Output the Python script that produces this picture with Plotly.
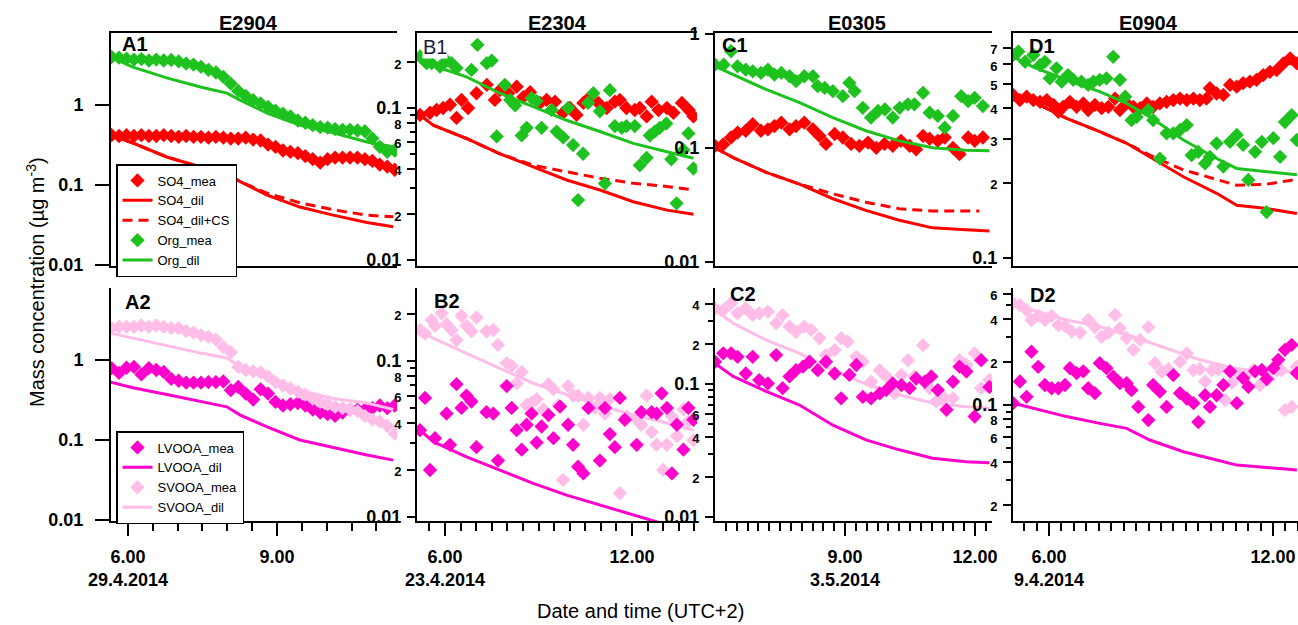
import plotly.graph_objects as go

# ---------------- data (decimal hours, µg m-3) ----------------
# Column A : E2904, 29.4.2014
a_t_mea = [5.67, 5.82, 5.97, 6.12, 6.27, 6.42, 6.57, 6.72, 6.87, 7.02, 7.17, 7.32, 7.47, 7.62, 7.77, 7.92,
           8.07, 8.22, 8.37, 8.52, 8.67, 8.82, 8.97, 9.12, 9.27, 9.42, 9.57, 9.72, 9.87, 10.02, 10.17,
           10.32, 10.47, 10.62, 10.77, 10.92, 11.07, 11.22, 11.37]
a1_org_mea = [3.98, 3.9, 3.8, 3.7, 3.75, 3.6, 3.7, 3.6, 3.65, 3.5, 3.3, 3.2, 3.0, 2.75, 2.55, 2.25, 1.85, 1.5,
              1.3, 1.15, 1.05, 0.95, 0.85, 0.78, 0.72, 0.64, 0.6, 0.56, 0.53, 0.52, 0.5, 0.49, 0.49, 0.48,
              0.47, 0.38, 0.3, 0.26, 0.27]
a1_so4_mea = [0.42, 0.41, 0.42, 0.41, 0.42, 0.41, 0.41, 0.42, 0.41, 0.40, 0.41, 0.40, 0.40, 0.39, 0.40, 0.39,
              0.38, 0.38, 0.39, 0.37, 0.36, 0.32, 0.30, 0.27, 0.26, 0.25, 0.23, 0.21, 0.19, 0.21, 0.22, 0.22,
              0.22, 0.22, 0.21, 0.20, 0.18, 0.17, 0.155]
a_t_dil = [5.64, 6.1, 6.78, 7.46, 7.99, 8.26, 8.8, 9.46, 10.13, 10.81, 11.34]
a1_so4_dil = [0.42, 0.335, 0.224, 0.168, 0.14, 0.11, 0.075, 0.053, 0.042, 0.034, 0.030]
a1_so4_cs = [0.42, 0.335, 0.224, 0.168, 0.14, 0.11, 0.079, 0.06, 0.049, 0.042, 0.040]
a1_org_dil = [3.98, 2.98, 2.18, 1.68, 1.41, 1.15, 0.79, 0.56, 0.45, 0.345, 0.30]
a2_sv_mea = [2.5, 2.6, 2.6, 2.6, 2.7, 2.6, 2.7, 2.6, 2.5, 2.5, 2.3, 2.2, 2.05, 1.95, 1.8, 1.45, 1.25, 0.82,
             0.75, 0.72, 0.70, 0.62, 0.53, 0.48, 0.44, 0.40, 0.37, 0.33, 0.30, 0.28, 0.26, 0.25, 0.24, 0.23,
             0.2, 0.18, 0.17, 0.15, 0.12]
a2_lv_mea = [0.79, 0.69, 0.80, 0.82, 0.66, 0.79, 0.75, 0.71, 0.58, 0.55, 0.52, 0.52, 0.52, 0.53, 0.53, 0.54,
             0.42, 0.46, 0.38, 0.32, 0.43, 0.38, 0.30, 0.27, 0.28, 0.29, 0.27, 0.24, 0.22, 0.21, 0.20, 0.22,
             0.24, 0.24, 0.24, 0.25, 0.27, 0.25, 0.27]
a2_lv_dil = [0.53, 0.45, 0.37, 0.30, 0.26, 0.205, 0.146, 0.10, 0.08, 0.065, 0.056]
a2_sv_dil = [2.17, 1.88, 1.54, 1.22, 1.06, 0.82, 0.61, 0.42, 0.33, 0.29, 0.24]

# Column B : E2304, 23.4.2014
b1_so4_t = [5.2, 5.52, 5.73, 5.94, 6.16, 6.37, 6.53, 6.74, 7.01, 7.34, 7.6, 7.76, 8.03, 8.3, 8.51, 8.73, 9.05,
            9.26, 9.53, 9.79, 10.01, 10.22, 10.44, 10.65, 10.92, 11.19, 11.45, 11.61, 11.82, 12.09, 12.25,
            12.47, 12.63, 12.85, 13.12, 13.33, 13.6, 13.82, 13.97]
b1_so4_mea = [0.090, 0.093, 0.097, 0.10, 0.105, 0.086, 0.113, 0.10, 0.125, 0.142, 0.113, 0.131, 0.125, 0.138,
              0.118, 0.127, 0.108, 0.113, 0.11, 0.093, 0.10, 0.09, 0.108, 0.118, 0.108, 0.10, 0.11, 0.113,
              0.10, 0.097, 0.10, 0.088, 0.11, 0.097, 0.10, 0.093, 0.108, 0.097, 0.088]
b1_org_t = [5.2, 5.41, 5.57, 5.84, 6.05, 6.21, 6.37, 6.85, 7.04, 7.34, 7.5, 7.66, 7.92, 8.09, 8.25, 8.46, 8.62,
            8.78, 8.94, 9.1, 9.42, 9.58, 9.79, 9.95, 10.11, 10.27, 10.43, 10.59, 10.76, 10.97, 11.13, 11.29,
            11.45, 11.67, 11.82, 12.09, 12.25, 12.47, 12.57, 12.73, 12.89, 13.1, 13.26, 13.43, 13.65, 13.81,
            13.97]
b1_org_mea = [0.218, 0.197, 0.197, 0.187, 0.205, 0.197, 0.183, 0.178, 0.26, 0.197, 0.205, 0.065, 0.142, 0.113,
              0.104, 0.066, 0.074, 0.116, 0.111, 0.074, 0.097, 0.070, 0.064, 0.10, 0.057, 0.0248, 0.05, 0.108,
              0.125, 0.095, 0.0319, 0.131, 0.076, 0.074, 0.076, 0.076, 0.042, 0.047, 0.066, 0.070, 0.074,
              0.079, 0.046, 0.0236, 0.053, 0.068, 0.040]
b_t_dil = [5.2, 5.62, 6.69, 7.76, 8.83, 9.9, 10.97, 12.04, 13.12, 13.97]
b1_so4_dil = [0.09, 0.077, 0.063, 0.050, 0.041, 0.0336, 0.0289, 0.0242, 0.0213, 0.020]
b1_so4_cs = [0.09, 0.077, 0.063, 0.050, 0.042, 0.038, 0.0345, 0.032, 0.0305, 0.029]
b1_org_dil = [0.218, 0.19, 0.16, 0.125, 0.102, 0.083, 0.070, 0.0585, 0.0516, 0.0467]
b2_sv_t = [5.2, 5.36, 5.57, 5.68, 5.89, 6.05, 6.21, 6.37, 6.53, 6.69, 6.85, 7.01, 7.33, 7.55, 7.7, 7.98, 8.14,
           8.3, 8.46, 8.62, 8.78, 8.94, 9.16, 9.32, 9.48, 9.64, 9.79, 9.95, 10.11, 10.27, 10.44, 10.6, 10.81,
           10.97, 11.13, 11.29, 11.61, 11.83, 12.15, 12.3, 12.47, 12.63, 12.79, 13.0, 13.12, 13.28, 13.44,
           13.65, 13.81, 13.97]
b2_sv_mea = [0.158, 0.15, 0.183, 0.168, 0.202, 0.172, 0.158, 0.136, 0.195, 0.168, 0.155, 0.19, 0.155, 0.158,
             0.127, 0.097, 0.093, 0.072, 0.085, 0.0522, 0.054, 0.057, 0.049, 0.071, 0.066, 0.052, 0.0173, 0.069,
             0.06, 0.06, 0.039, 0.058, 0.05, 0.058, 0.046, 0.057, 0.0142, 0.044, 0.042, 0.039, 0.06, 0.035,
             0.029, 0.02, 0.029, 0.044, 0.033, 0.049, 0.041, 0.031]
b2_lv_t = [5.2, 5.36, 5.52, 5.68, 6.05, 6.16, 6.37, 6.53, 6.69, 6.85, 7.01, 7.33, 7.55, 7.7, 7.98, 8.14, 8.3,
           8.46, 8.62, 8.78, 8.94, 9.1, 9.32, 9.48, 9.69, 9.95, 10.11, 10.27, 10.44, 10.6, 10.97, 11.13, 11.29,
           11.45, 11.61, 11.77, 12.15, 12.3, 12.63, 12.79, 12.95, 13.12, 13.28, 13.44, 13.65, 13.81, 13.97]
b2_lv_mea = [0.036, 0.058, 0.02, 0.032, 0.046, 0.029, 0.071, 0.05, 0.06, 0.055, 0.028, 0.047, 0.046, 0.023,
             0.069, 0.05, 0.036, 0.027, 0.039, 0.046, 0.03, 0.038, 0.045, 0.032, 0.051, 0.039, 0.029, 0.021,
             0.019, 0.05, 0.023, 0.05, 0.034, 0.028, 0.058, 0.042, 0.029, 0.047, 0.047, 0.046, 0.062, 0.05,
             0.019, 0.039, 0.027, 0.05, 0.042]
b2_sv_dil = [0.158, 0.14, 0.112, 0.09, 0.072, 0.061, 0.052, 0.045, 0.040, 0.036]
b2_lv_dil = [0.036, 0.0304, 0.0243, 0.020, 0.0164, 0.0138, 0.0119, 0.0103, 0.0089, 0.0080]

# Column C : E0305, 3.5.2014
c1_org_t = [6.0, 6.2, 6.37, 6.52, 6.71, 6.87, 7.06, 7.22, 7.37, 7.53, 7.72, 7.87, 8.06, 8.26, 8.37, 8.53, 8.72,
            8.95, 9.1, 9.22, 9.41, 9.6, 9.76, 9.92, 10.1, 10.26, 10.45, 10.6, 10.8, 10.95, 11.14, 11.3, 11.49,
            11.68, 11.84, 11.99, 12.18]
c1_org_mea = [0.534, 0.534, 0.70, 0.517, 0.483, 0.467, 0.452, 0.483, 0.437, 0.452, 0.423, 0.383, 0.423, 0.423,
              0.346, 0.334, 0.313, 0.283, 0.37, 0.313, 0.224, 0.184, 0.21, 0.217, 0.184, 0.224, 0.24, 0.24,
              0.303, 0.203, 0.19, 0.15, 0.19, 0.283, 0.256, 0.274, 0.232]
c1_so4_t = [6.0, 6.19, 6.37, 6.52, 6.71, 6.87, 7.06, 7.22, 7.37, 7.53, 7.72, 7.87, 8.06, 8.26, 8.41, 8.56, 8.76,
            8.95, 9.14, 9.33, 9.53, 9.72, 9.91, 10.1, 10.29, 10.49, 10.64, 10.8, 10.95, 11.14, 11.3, 11.49,
            11.64, 11.84, 11.99, 12.18]
c1_so4_mea = [0.104, 0.107, 0.123, 0.136, 0.141, 0.161, 0.141, 0.145, 0.155, 0.166, 0.145, 0.155, 0.166, 0.145,
              0.127, 0.108, 0.132, 0.123, 0.108, 0.104, 0.111, 0.100, 0.108, 0.104, 0.115, 0.104, 0.097, 0.127,
              0.12, 0.115, 0.123, 0.100, 0.088, 0.123, 0.115, 0.123]
c_t_dil = [6.0, 6.42, 7.18, 7.95, 8.72, 9.48, 10.25, 11.02, 11.79, 12.33]
c1_so4_dil = [0.1, 0.082, 0.061, 0.048, 0.0358, 0.0283, 0.0232, 0.0199, 0.0192, 0.0187]
c1_cs_t = [6.0, 6.42, 7.18, 7.95, 8.33, 8.72, 9.48, 10.25, 11.02, 12.1]
c1_so4_cs = [0.1, 0.082, 0.061, 0.048, 0.0437, 0.0395, 0.0334, 0.0293, 0.0279, 0.0279]
c1_org_dil = [0.517, 0.437, 0.324, 0.248, 0.184, 0.141, 0.115, 0.100, 0.095, 0.094]
c2_sv_t = [6.0, 6.19, 6.37, 6.52, 6.71, 6.87, 7.02, 7.22, 7.41, 7.56, 7.72, 7.87, 8.06, 8.22, 8.41, 8.56, 8.76,
           8.91, 9.06, 9.26, 9.41, 9.6, 9.8, 9.95, 10.14, 10.3, 10.45, 10.6, 10.8, 10.95, 11.1, 11.3, 11.49,
           11.64, 11.8, 11.99, 12.14, 12.33]
c2_sv_mea = [0.371, 0.36, 0.405, 0.34, 0.371, 0.33, 0.34, 0.35, 0.286, 0.33, 0.27, 0.247, 0.27, 0.255, 0.221,
             0.165, 0.18, 0.221, 0.208, 0.16, 0.147, 0.104, 0.127, 0.114, 0.085, 0.117, 0.151, 0.114, 0.196,
             0.093, 0.074, 0.078, 0.078, 0.151, 0.139, 0.17, 0.093, 0.107]
c2_lv_t = [6.0, 6.19, 6.37, 6.52, 6.71, 6.87, 7.02, 7.22, 7.41, 7.56, 7.72, 7.87, 8.03, 8.18, 8.37, 8.56, 8.76,
           8.91, 9.1, 9.26, 9.41, 9.6, 9.8, 9.95, 10.1, 10.3, 10.49, 10.64, 10.84, 10.99, 11.14, 11.34, 11.49,
           11.64, 11.8, 11.99, 12.14, 12.33]
c2_lv_mea = [0.147, 0.17, 0.17, 0.16, 0.12, 0.16, 0.107, 0.101, 0.165, 0.093, 0.114, 0.127, 0.135, 0.147, 0.127,
             0.147, 0.12, 0.078, 0.117, 0.139, 0.08, 0.078, 0.085, 0.09, 0.101, 0.098, 0.093, 0.11, 0.104, 0.114,
             0.09, 0.064, 0.104, 0.135, 0.124, 0.057, 0.151, 0.095]
c2_sv_dil = [0.36, 0.286, 0.214, 0.17, 0.127, 0.1, 0.083, 0.072, 0.0675, 0.066]
c2_lv_dil = [0.143, 0.114, 0.088, 0.0695, 0.049, 0.038, 0.032, 0.0277, 0.026, 0.0256]

# Column D : E0904, 9.4.2014
d1_so4_t = [5.04, 5.22, 5.40, 5.58, 5.76, 5.94, 6.12, 6.25, 6.38, 6.56, 6.74, 6.92, 7.05, 7.23, 7.41, 7.59,
            7.77, 7.90, 8.08, 8.26, 8.44, 8.62, 8.79, 8.97, 9.15, 9.33, 9.51, 9.69, 9.87, 10.04, 10.22, 10.31,
            10.49, 10.67, 10.85, 11.03, 11.2, 11.38, 11.56, 11.74, 11.92, 12.1, 12.28, 12.46, 12.64]
d1_so4_mea = [0.452, 0.431, 0.445, 0.431, 0.424, 0.431, 0.412, 0.387, 0.405, 0.424, 0.405, 0.418, 0.393, 0.412,
              0.40, 0.405, 0.437, 0.393, 0.418, 0.405, 0.40, 0.418, 0.405, 0.418, 0.424, 0.431, 0.437, 0.431,
              0.437, 0.431, 0.437, 0.481, 0.458, 0.452, 0.496, 0.488, 0.504, 0.511, 0.52, 0.543, 0.56, 0.569,
              0.605, 0.634, 0.605]
d1_org_t = [5.04, 5.18, 5.36, 5.58, 5.76, 5.89, 6.02, 6.2, 6.34, 6.51, 6.65, 6.87, 7.05, 7.19, 7.36, 7.54, 7.72,
            7.90, 8.04, 8.21, 8.35, 8.66, 8.79, 8.97, 9.15, 9.33, 9.51, 9.69, 9.82, 10.0, 10.18, 10.31, 10.49,
            10.67, 10.85, 11.03, 11.2, 11.34, 11.52, 11.7, 11.83, 12.01, 12.19, 12.32, 12.5, 12.64]
d1_org_mea = [0.654, 0.675, 0.614, 0.654, 0.595, 0.614, 0.527, 0.578, 0.511, 0.543, 0.52, 0.511, 0.496, 0.511,
              0.52, 0.527, 0.643, 0.52, 0.445, 0.358, 0.369, 0.393, 0.358, 0.251, 0.317, 0.317, 0.327, 0.342,
              0.259, 0.267, 0.24, 0.255, 0.289, 0.233, 0.293, 0.312, 0.285, 0.206, 0.267, 0.293, 0.153, 0.303,
              0.255, 0.352, 0.375, 0.298]
d_t_dil = [5.04, 5.57, 6.47, 7.36, 8.08, 8.7, 9.6, 10.49, 11.03, 11.83, 12.64]
d1_so4_dil = [0.452, 0.425, 0.364, 0.322, 0.289, 0.255, 0.212, 0.182, 0.163, 0.158, 0.151]
d1_so4_cs = [0.452, 0.425, 0.364, 0.322, 0.289, 0.259, 0.226, 0.206, 0.196, 0.198, 0.207]
d1_org_dil = [0.643, 0.586, 0.519, 0.466, 0.418, 0.369, 0.298, 0.251, 0.229, 0.222, 0.216]
d2_sv_t = [5.04, 5.22, 5.40, 5.53, 5.71, 5.89, 6.07, 6.25, 6.43, 6.61, 6.83, 7.05, 7.23, 7.41, 7.59, 7.77, 7.90,
           8.08, 8.26, 8.44, 8.66, 8.84, 9.02, 9.2, 9.51, 9.69, 9.87, 10.04, 10.18, 10.36, 10.54, 10.72, 10.9,
           11.07, 11.25, 11.47, 11.65, 11.88, 12.1, 12.23, 12.32, 12.5, 12.64]
d2_sv_mea = [0.514, 0.5, 0.461, 0.393, 0.42, 0.393, 0.42, 0.362, 0.357, 0.326, 0.32, 0.393, 0.35, 0.3, 0.32,
             0.426, 0.344, 0.294, 0.243, 0.285, 0.35, 0.196, 0.171, 0.178, 0.2, 0.23, 0.175, 0.178, 0.146,
             0.175, 0.178, 0.108, 0.143, 0.165, 0.158, 0.175, 0.138, 0.152, 0.175, 0.175, 0.092, 0.097, 0.185]
d2_lv_t = [5.04, 5.22, 5.40, 5.53, 5.71, 5.89, 6.07, 6.25, 6.43, 6.56, 6.74, 6.92, 7.05, 7.23, 7.36, 7.54, 7.72,
           7.90, 8.08, 8.21, 8.39, 8.66, 8.79, 8.97, 9.15, 9.33, 9.51, 9.69, 9.87, 10.0, 10.18, 10.31, 10.49,
           10.67, 10.85, 11.03, 11.2, 11.34, 11.52, 11.7, 11.83, 12.01, 12.14, 12.32, 12.5, 12.64]
d2_lv_mea = [0.103, 0.146, 0.114, 0.236, 0.185, 0.138, 0.131, 0.131, 0.138, 0.181, 0.167, 0.172, 0.131, 0.121,
             0.196, 0.181, 0.158, 0.142, 0.142, 0.127, 0.097, 0.0785, 0.138, 0.124, 0.097, 0.162, 0.121, 0.111,
             0.103, 0.076, 0.117, 0.097, 0.117, 0.138, 0.172, 0.103, 0.154, 0.134, 0.172, 0.176, 0.152, 0.181,
             0.207, 0.243, 0.263, 0.167]
d2_sv_dil_t = [5.04, 5.57, 6.47, 7.36, 8.26, 9.15, 10.04, 10.94, 11.83, 12.64]
d2_sv_dil = [0.527, 0.461, 0.393, 0.353, 0.3, 0.249, 0.207, 0.181, 0.17, 0.171]
d2_lv_dil = [0.103, 0.095, 0.083, 0.0744, 0.0687, 0.0569, 0.0471, 0.0412, 0.038, 0.0366, 0.0351]

# labels
titles = ["E2904", "E2304", "E0305", "E0904"]
panel_labels = ["A1", "B1", "C1", "D1", "A2", "B2", "C2", "D2"]
x_major_vals = [[6, 9], [6, 12], [9, 12], [6, 12]]
x_major_text = [["6.00<br>29.4.2014", "9.00"], ["6.00<br>23.4.2014", "12.00"],
                ["9.00<br>3.5.2014", "12.00"], ["6.00<br>9.4.2014", "12.00"]]
x_minor_step = [0.5, 0.5, 0.25, 1 / 3]

# ---------------- style / layout ----------------
RED = "#ff0000"
GREEN = "#1ec21e"
MAG = "#ff00cc"
PINK = "#ffbde8"
FONT = "Liberation Sans, Arial, sans-serif"

W, H = 1298, 625
def fx(p): return p / W
def fy(p): return 1 - p / H

COLS = [(111, 397), (417, 697), (715, 992), (1013, 1298)]
ROWS = [(33, 266), (288, 521)]
XR = [(5.658, 11.416), (5.102, 14.085), (6.0, 12.39), (5.036, 12.67)]

# y axis specs: range(log), majors, labelled minors, unlabelled minors, ticklen
YS = {
    1: ([-2.0125, 0.9], [(0.01, "0.01"), (0.1, "0.1"), (1, "1")], [], [], 14),
    2: ([-2.039, -0.507], [(0.01, "0.01"), (0.1, "0.1")],
        [(0.02, "2"), (0.04, "4"), (0.06, "6"), (0.08, "8"), (0.2, "2")], [0.03, 0.05, 0.07, 0.09], 8),
    3: ([-2.035, 0.005], [(0.01, "0.01"), (0.1, "0.1"), (1, "1")], [], [], 8),
    4: ([-1.032, -0.096], [(0.1, "0.1")],
        [(0.2, "2"), (0.3, "3"), (0.4, "4"), (0.5, "5"), (0.6, "6"), (0.7, "7")], [], 8),
    5: ([-2.0125, 0.9], [(0.01, "0.01"), (0.1, "0.1"), (1, "1")], [], [], 14),
    6: ([-2.026, -0.532], [(0.01, "0.01"), (0.1, "0.1")],
        [(0.02, "2"), (0.04, "4"), (0.06, "6"), (0.08, "8"), (0.2, "2")], [0.03, 0.05, 0.07, 0.09], 8),
    7: ([-2.03, -0.278], [(0.01, "0.01"), (0.1, "0.1")],
        [(0.02, "2"), (0.04, "4"), (0.06, "6"), (0.2, "2"), (0.4, "4")], [0.03, 0.05, 0.07, 0.08, 0.09, 0.3], 8),
    8: ([-1.811, -0.182], [(0.1, "0.1")],
        [(0.02, "2"), (0.04, "4"), (0.06, "6"), (0.08, "8"), (0.2, "2"), (0.4, "4"), (0.6, "6")],
        [0.03, 0.05, 0.07, 0.09, 0.3, 0.5], 8),
}

fig = go.Figure()


def add(panel, x, y, name, kind, color, dash=None, legend=None):
    ax = "" if panel == 1 else str(panel)
    common = dict(x=x, y=y, name=name, xaxis="x" + ax, yaxis="y" + ax,
                  showlegend=legend is not None, hoverinfo="skip")
    if legend:
        common["legend"] = legend
    if kind == "m":
        fig.add_trace(go.Scatter(mode="markers", marker=dict(symbol="diamond", size=11, color=color,
                                                             line=dict(width=0)), **common))
    else:
        fig.add_trace(go.Scatter(mode="lines", line=dict(color=color, width=3, dash=dash or "solid"),
                                 **common))


# row 1
add(1, a_t_mea, a1_so4_mea, "SO4_mea", "m", RED, legend="legend")
add(1, a_t_dil, a1_so4_dil, "SO4_dil", "l", RED, legend="legend")
add(1, a_t_dil, a1_so4_cs, "SO4_dil+CS", "l", RED, dash="10px,6px", legend="legend")
add(1, a_t_mea, a1_org_mea, "Org_mea", "m", GREEN, legend="legend")
add(1, a_t_dil, a1_org_dil, "Org_dil", "l", GREEN, legend="legend")

add(2, b1_so4_t, b1_so4_mea, "SO4_mea", "m", RED)
add(2, b_t_dil, b1_so4_dil, "SO4_dil", "l", RED)
add(2, b_t_dil, b1_so4_cs, "SO4_dil+CS", "l", RED, dash="10px,6px")
add(2, b1_org_t, b1_org_mea, "Org_mea", "m", GREEN)
add(2, b_t_dil, b1_org_dil, "Org_dil", "l", GREEN)

add(3, c1_so4_t, c1_so4_mea, "SO4_mea", "m", RED)
add(3, c_t_dil, c1_so4_dil, "SO4_dil", "l", RED)
add(3, c1_cs_t, c1_so4_cs, "SO4_dil+CS", "l", RED, dash="10px,6px")
add(3, c1_org_t, c1_org_mea, "Org_mea", "m", GREEN)
add(3, c_t_dil, c1_org_dil, "Org_dil", "l", GREEN)

add(4, d1_so4_t, d1_so4_mea, "SO4_mea", "m", RED)
add(4, d_t_dil, d1_so4_dil, "SO4_dil", "l", RED)
add(4, d_t_dil, d1_so4_cs, "SO4_dil+CS", "l", RED, dash="10px,6px")
add(4, d1_org_t, d1_org_mea, "Org_mea", "m", GREEN)
add(4, d_t_dil, d1_org_dil, "Org_dil", "l", GREEN)

# row 2
add(5, a_t_mea, a2_lv_mea, "LVOOA_mea", "m", MAG, legend="legend2")
add(5, a_t_dil, a2_lv_dil, "LVOOA_dil", "l", MAG, legend="legend2")
add(5, a_t_mea, a2_sv_mea, "SVOOA_mea", "m", PINK, legend="legend2")
add(5, a_t_dil, a2_sv_dil, "SVOOA_dil", "l", PINK, legend="legend2")

add(6, b2_sv_t, b2_sv_mea, "SVOOA_mea", "m", PINK)
add(6, b_t_dil, b2_sv_dil, "SVOOA_dil", "l", PINK)
add(6, b2_lv_t, b2_lv_mea, "LVOOA_mea", "m", MAG)
add(6, b_t_dil, b2_lv_dil, "LVOOA_dil", "l", MAG)

add(7, c2_sv_t, c2_sv_mea, "SVOOA_mea", "m", PINK)
add(7, c_t_dil, c2_sv_dil, "SVOOA_dil", "l", PINK)
add(7, c2_lv_t, c2_lv_mea, "LVOOA_mea", "m", MAG)
add(7, c_t_dil, c2_lv_dil, "LVOOA_dil", "l", MAG)

add(8, d2_sv_t, d2_sv_mea, "SVOOA_mea", "m", PINK)
add(8, d2_sv_dil_t, d2_sv_dil, "SVOOA_dil", "l", PINK)
add(8, d2_lv_t, d2_lv_mea, "LVOOA_mea", "m", MAG)
add(8, d_t_dil, d2_lv_dil, "LVOOA_dil", "l", MAG)

layout = {}
for p in range(1, 9):
    ci = (p - 1) % 4
    ri = (p - 1) // 4
    ax = "" if p == 1 else str(p)
    c0, c1 = COLS[ci]
    r0, r1 = ROWS[ri]
    xdom = [fx(c0), min(1.0, fx(c1))]
    ydom = [fy(r1), fy(r0)]
    xa = dict(domain=xdom, range=list(XR[ci]), anchor="y" + ax, showgrid=False, zeroline=False,
              showline=True, linecolor="black", linewidth=2, automargin=False)
    if ri == 0:
        xa.update(mirror=True, ticks="", showticklabels=False)
    else:
        lo, hi = XR[ci]
        st = x_minor_step[ci]
        k0 = int(lo // st) + 1
        minors = [round(k * st, 4) for k in range(k0, int(hi / st) + 1)]
        xa.update(mirror=False, tickmode="array", tickvals=x_major_vals[ci],
                  ticktext=["<b>" + t.replace("<br>", "</b><br><b>") + "</b>" for t in x_major_text[ci]],
                  ticks="outside", ticklen=13, tickwidth=2, tickcolor="black",
                  tickfont=dict(family=FONT, size=18, color="black"), ticklabelstandoff=5,
                  minor=dict(tickmode="array", tickvals=minors, ticks="outside", ticklen=8,
                             tickwidth=2, tickcolor="black", showgrid=False))
    rng, majors, lminors, uminors, tlen = YS[p]
    tv = [v for v, _ in majors] + [v for v, _ in lminors]
    tt = ["<b>" + t + "</b>" for _, t in majors] + \
         ['<span style="font-size:13px"><b>' + t + "</b></span>" for _, t in lminors]
    ya = dict(domain=ydom, type="log", range=rng, anchor="x" + ax, showgrid=False, zeroline=False,
              showline=True, linecolor="black", linewidth=2, mirror=False, automargin=False,
              tickmode="array", tickvals=tv, ticktext=tt, ticks="outside", ticklen=tlen, tickwidth=2,
              tickcolor="black", tickfont=dict(family=FONT, size=18, color="black"),
              ticklabelstandoff=(8 if tlen > 10 else 2))
    if uminors:
        ya["minor"] = dict(tickmode="array", tickvals=uminors, ticks="outside", ticklen=5, tickwidth=2,
                           tickcolor="black", showgrid=False)
    layout["xaxis" + ax] = xa
    layout["yaxis" + ax] = ya

annotations = []
title_x = [248, 557, 857, 1148]
for i, t in enumerate(titles):
    annotations.append(dict(text="<b>" + t + "</b>", x=fx(title_x[i]), y=fy(23), xref="paper", yref="paper",
                            showarrow=False, xanchor="center", yanchor="middle",
                            font=dict(family=FONT, size=20, color="black")))
lab_pos = [(120, 44), (422, 47), (720, 45), (1027, 46), (123, 302), (432, 301), (728, 294), (1028, 295)]
for i, t in enumerate(panel_labels):
    if t == "B1":
        annotations.append(dict(text=t, x=fx(lab_pos[i][0]), y=fy(lab_pos[i][1]), xref="paper",
                                yref="paper", showarrow=False, xanchor="left", yanchor="middle",
                                bgcolor="white", borderpad=0,
                                font=dict(family=FONT, size=20, color="#1a1a3a")))
    else:
        annotations.append(dict(text="<b>" + t + "</b>", x=fx(lab_pos[i][0]), y=fy(lab_pos[i][1]),
                                xref="paper", yref="paper", showarrow=False, xanchor="left",
                                yanchor="middle", font=dict(family=FONT, size=20, color="black")))
annotations.append(dict(text="Mass concentration (µg m<sup>-3</sup>)", x=fx(35), y=fy(282), xref="paper",
                        yref="paper", showarrow=False, textangle=-90, xanchor="center", yanchor="middle",
                        font=dict(family=FONT, size=20, color="black")))
annotations.append(dict(text="Date and time (UTC+2)", x=fx(640), y=fy(611), xref="paper", yref="paper",
                        showarrow=False, xanchor="center", yanchor="middle",
                        font=dict(family=FONT, size=20, color="black")))

legend_style = dict(xref="paper", yref="paper", xanchor="left", yanchor="top", bgcolor="white",
                    bordercolor="black", borderwidth=1.5, font=dict(family=FONT, size=13, color="black"),
                    tracegroupgap=0, itemwidth=30)

fig.update_layout(
    width=W, height=H, margin=dict(l=0, r=0, t=0, b=0, autoexpand=False), autosize=False,
    paper_bgcolor="white", plot_bgcolor="white",
    font=dict(family=FONT, color="black"),
    annotations=annotations,
    legend=dict(x=fx(116), y=fy(164), **legend_style),
    legend2=dict(x=fx(116), y=fy(431), **legend_style),
    **layout,
)

fig.write_html("out.html", config={"displayModeBar": False},
               post_script="document.body.style.margin='0';")
